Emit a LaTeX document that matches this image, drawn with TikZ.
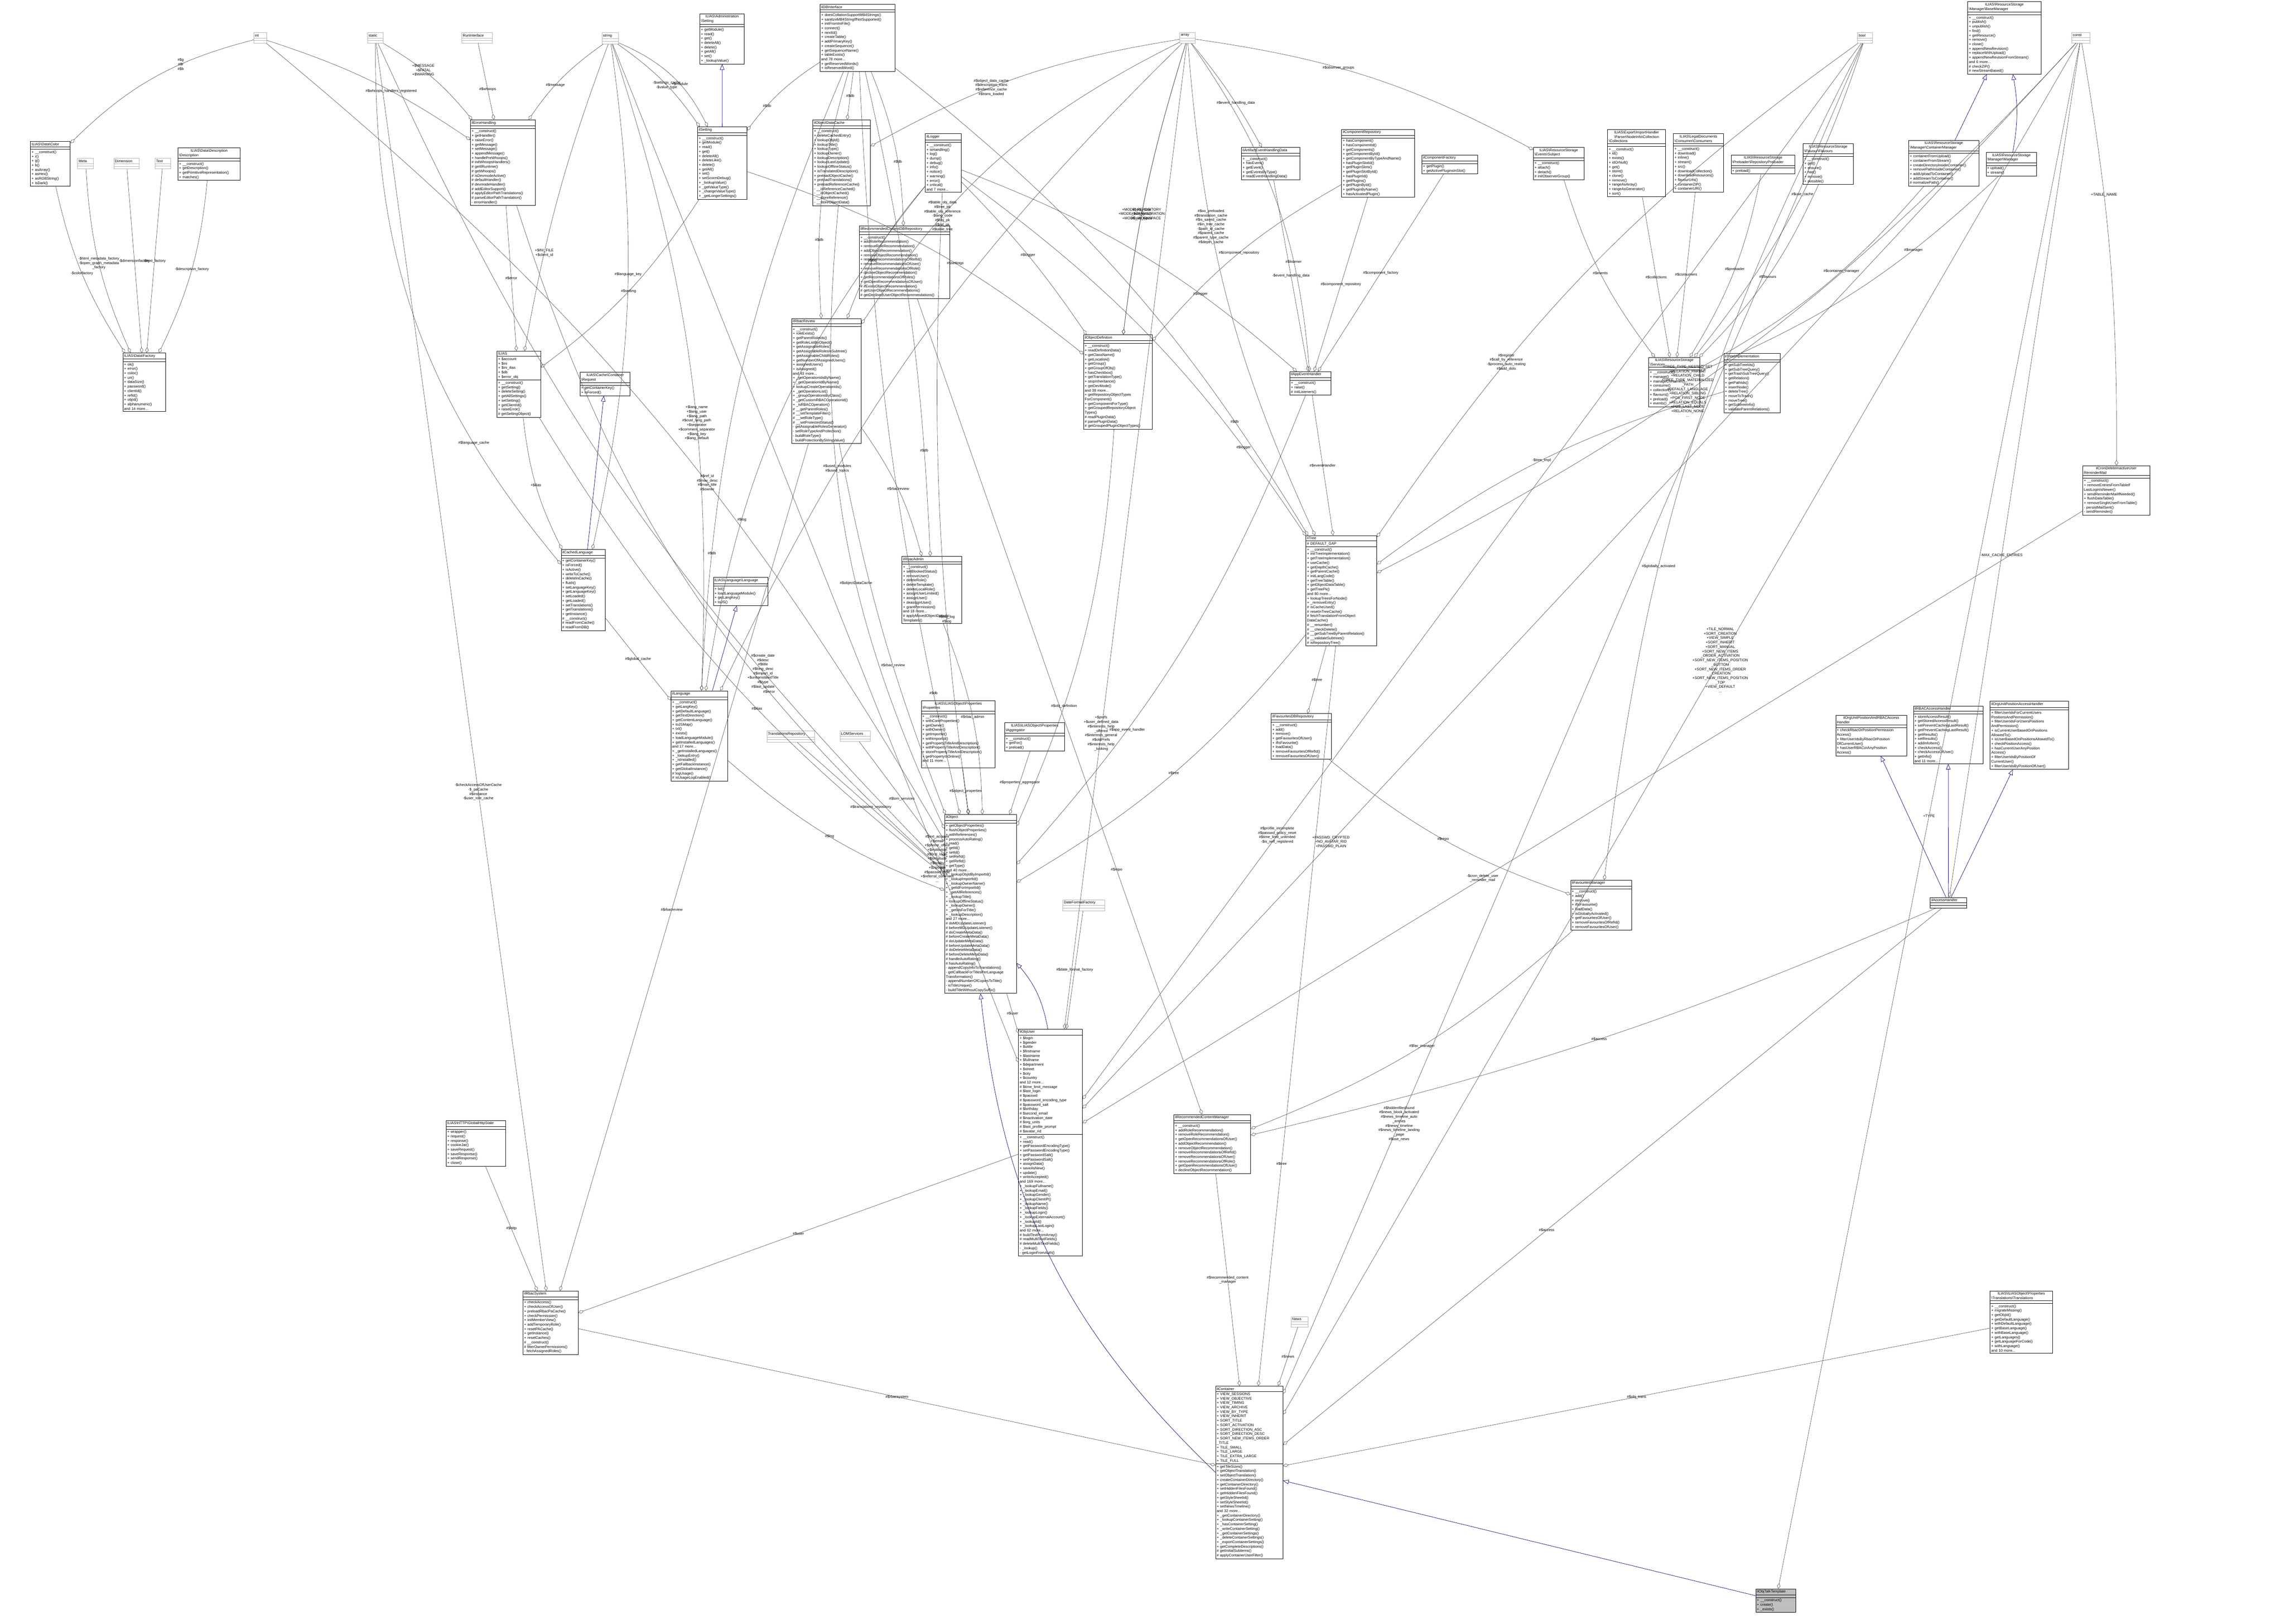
\documentclass[tikz,border=0pt]{standalone}
\usepackage{fontspec}
\setmainfont{Liberation Sans}
\usetikzlibrary{arrows.meta, shapes.multipart}

\tikzset{
  every node/.style={font=\fontsize{3.3}{4}\selectfont},
  cls/.style={draw, rectangle split, rectangle split parts=3, text width=#1,
    align=left, inner sep=1pt, anchor=north west, line width=0.35pt,
    rectangle split empty part height=4pt, fill=white},
  ext/.style={cls=#1, draw=gray!60},
  rel/.style={draw=black!75, line width=0.25pt, -{Diamond[open,length=5pt,width=3pt]}},
  inh/.style={draw=blue!45!black, line width=0.3pt, -{Triangle[open,length=5pt,width=4pt]}},
  lbl/.style={align=center, inner sep=0.5pt},
}

\begin{document}
\begin{tikzpicture}
  \useasboundingbox (0,0) rectangle (72.34,-51.41);
  % Plain types
  \node [ext=0.33cm] (int) at (8.03,-1.03) {\centering int\nodepart{two}\nodepart{three}};
  \node [ext=0.43cm] (static) at (11.63,-1.03) {\centering static\nodepart{two}\nodepart{three}};
  \node [ext=0.9cm] (runif) at (14.61,-1.03) {\centering RunInterface\nodepart{two}\nodepart{three}};
  \node [ext=0.46cm] (string) at (19.05,-1.03) {\centering string\nodepart{two}\nodepart{three}};
  \node [ext=0.42cm] (array) at (37.34,-1.03) {\centering array\nodepart{two}\nodepart{three}};
  \node [ext=0.41cm] (bool) at (58.8,-1.03) {\centering bool\nodepart{two}\nodepart{three}};
  \node [ext=0.51cm] (const) at (65.58,-1.03) {\centering const\nodepart{two}\nodepart{three}};
  \node [ext=0.43cm] (meta) at (2.45,-5.01) {\centering Meta\nodepart{two}\nodepart{three}};
  \node [ext=0.73cm] (dimension) at (3.6,-5.01) {\centering Dimension\nodepart{two}\nodepart{three}};
  \node [ext=0.42cm] (text) at (4.9,-5.01) {\centering Text\nodepart{two}\nodepart{three}};
  \node [ext=1.44cm] (transrepo) at (24.27,-23.14) {\centering TranslationsRepository\nodepart{two}\nodepart{three}};
  \node [ext=0.89cm] (lomservices) at (26.59,-23.14) {\centering LOMServices\nodepart{two}\nodepart{three}};
  \node [ext=1.26cm] (dateformat) at (33.64,-28.48) {\centering DateFormatFactory\nodepart{two}\nodepart{three}};
  \node [ext=0.46cm] (news) at (40.87,-41.68) {\centering News\nodepart{two}\nodepart{three}};

  % Classes, top row
  \node [cls=1.34cm] (adminsetting) at (22.15,-0.43) {\centering ILIAS\textbackslash Administration\\\textbackslash Setting\nodepart{two}\nodepart{three}+ getModule()\\+ read()\\+ get()\\+ deleteAll()\\+ delete()\\+ getAll()\\+ set()\\+ \_lookupValue()};
  \node [cls=2.3cm] (dbinterface) at (25.96,-0.13) {\centering ilDBInterface\nodepart{two}\nodepart{three}+ doesCollationSupportMB4Strings()\\+ sanitizeMB4StringIfNotSupported()\\+ initFromIniFile()\\+ connect()\\+ nextId()\\+ createTable()\\+ addPrimaryKey()\\+ createSequence()\\+ getSequenceName()\\+ tableExists()\\and 78 more...\\+ getReservedWords()\\+ isReservedWord()};
  \node [cls=2.25cm] (basemanager) at (62.29,-0.05) {\centering ILIAS\textbackslash ResourceStorage\\\textbackslash Manager\textbackslash BaseManager\nodepart{two}\nodepart{three}+ \_\_construct()\\+ publish()\\+ unpublish()\\+ find()\\+ getResource()\\+ remove()\\+ clone()\\+ appendNewRevision()\\+ replaceWithUpload()\\+ appendNewRevisionFromStream()\\and 6 more...\\\# checkZIP()\\\# newStreamBased()};

  % Classes, second row
  \node [cls=1.19cm] (color) at (0.96,-4.47) {\centering ILIAS\textbackslash Data\textbackslash Color\nodepart{two}\nodepart{three}+ \_\_construct()\\+ r()\\+ g()\\+ b()\\+ asArray()\\+ asHex()\\+ asRGBString()\\+ isDark()};
  \node [cls=1.9cm] (description) at (5.63,-4.68) {\centering ILIAS\textbackslash Data\textbackslash Description\\\textbackslash Description\nodepart{two}\nodepart{three}+ \_\_construct()\\+ getDescription()\\+ getPrimitiveRepresentation()\\+ matches()};
  \node [cls=1.98cm] (errorhandling) at (14.89,-3.79) {\centering ilErrorHandling\nodepart{two}\nodepart{three}+ \_\_construct()\\+ getHandler()\\+ raiseError()\\+ getMessage()\\+ setMessage()\\+ appendMessage()\\+ handlePreWhoops()\\\# initWhoopsHandlers()\\\# getIlRuntime()\\\# getWhoops()\\\# isDevmodeActive()\\\# defaultHandler()\\\# devmodeHandler()\\\# addEditorSupport()\\\# applyEditorPathTranslations()\\\# parseEditorPathTranslation()\\- errorHandler()};
  \node [cls=1.49cm] (setting) at (22.08,-4.01) {\centering ilSetting\nodepart{two}\nodepart{three}+ \_\_construct()\\+ getModule()\\+ read()\\+ get()\\+ deleteAll()\\+ deleteLike()\\+ delete()\\+ getAll()\\+ set()\\+ setScormDebug()\\+ \_lookupValue()\\+ \_getValueType()\\+ \_changeValueType()\\+ \_getLongerSettings()};
  \node [cls=1.75cm] (objdatacache) at (25.73,-3.79) {\centering ilObjectDataCache\nodepart{two}\nodepart{three}+ \_\_construct()\\+ deleteCachedEntry()\\+ lookupObjId()\\+ lookupTitle()\\+ lookupType()\\+ lookupOwner()\\+ lookupDescription()\\+ lookupLastUpdate()\\+ lookupOfflineStatus()\\+ isTranslatedDescription()\\+ preloadObjectCache()\\+ preloadTranslations()\\+ preloadReferenceCache()\\- \_\_isReferenceCached()\\- \_\_isObjectCached()\\- \_\_storeReference()\\- \_\_storeObjectData()};
  \node [cls=1.07cm] (logger) at (29.29,-4.23) {\centering ilLogger\nodepart{two}\nodepart{three}+ \_\_construct()\\+ isHandling()\\+ log()\\+ dump()\\+ debug()\\+ info()\\+ notice()\\+ warning()\\+ error()\\+ critical()\\and 7 more...};
  \node [cls=1.77cm] (artifact) at (39.3,-4.66) {\centering ilArtifactEventHandlingData\nodepart{two}\nodepart{three}+ \_\_construct()\\+ hasEvent()\\+ getEvent()\\+ getEventsByType()\\\# readEventHandlingData()};
  \node [cls=2.24cm] (comprepo) at (42.47,-4.09) {\centering ilComponentRepository\nodepart{two}\nodepart{three}+ hasComponent()\\+ hasComponentId()\\+ getComponents()\\+ getComponentById()\\+ getComponentByTypeAndName()\\+ hasPluginSlotId()\\+ getPluginSlots()\\+ getPluginSlotById()\\+ hasPluginId()\\+ getPlugins()\\+ getPluginById()\\+ getPluginByName()\\+ hasActivatedPlugin()};
  \node [cls=1.69cm] (compfactory) at (45.01,-4.9) {\centering ilComponentFactory\nodepart{two}\nodepart{three}+ getPlugin()\\+ getActivePluginsInSlot()};
  \node [cls=1.53cm] (subject) at (48.54,-4.66) {\centering ILIAS\textbackslash ResourceStorage\\\textbackslash Events\textbackslash Subject\nodepart{two}\nodepart{three}+ \_\_construct()\\+ attach()\\+ detach()\\\# initObserverGroup()};
  \node [cls=1.76cm] (collections) at (50.89,-4.1) {\centering ILIAS\textbackslash Export\textbackslash ImportHandler\\\textbackslash Parser\textbackslash NodeInfo\textbackslash Collection\\\textbackslash Collections\nodepart{two}\nodepart{three}+ \_\_construct()\\+ id()\\+ exists()\\+ idOrNull()\\+ get()\\+ store()\\+ clone()\\+ remove()\\+ rangeAsArray()\\+ rangeAsGenerator()\\+ sort()};
  \node [cls=1.52cm] (consumers) at (52.97,-4.23) {\centering ILIAS\textbackslash LegalDocuments\\\textbackslash Consumer\textbackslash Consumers\nodepart{two}\nodepart{three}+ \_\_construct()\\+ download()\\+ inline()\\+ stream()\\+ src()\\+ downloadCollection()\\+ downloadResources()\\+ flavourUrls()\\+ containerZIP()\\+ containerURI()};
  \node [cls=1.95cm] (preloader) at (54.8,-4.9) {\centering ILIAS\textbackslash ResourceStorage\\\textbackslash Preloader\textbackslash RepositoryPreloader\nodepart{two}\nodepart{three}+ preload()};
  \node [cls=1.51cm] (flavours) at (57.08,-4.55) {\centering ILIAS\textbackslash ResourceStorage\\\textbackslash Flavour\textbackslash Flavours\nodepart{two}\nodepart{three}+ \_\_construct()\\+ get()\\+ ensure()\\+ has()\\+ remove()\\+ possible()};
  \node [cls=2.15cm] (containermanager) at (60.42,-4.44) {\centering ILIAS\textbackslash ResourceStorage\\\textbackslash Manager\textbackslash ContainerManager\nodepart{two}\nodepart{three}+ containerFromUpload()\\+ containerFromStream()\\+ createDirectoryInsideContainer()\\+ removePathInsideContainer()\\+ addUploadToContainer()\\+ addStreamToContainer()\\\# normalizePath()};
  \node [cls=1.53cm] (manager) at (62.87,-4.82) {\centering ILIAS\textbackslash ResourceStorage\\\textbackslash Manager\textbackslash Manager\nodepart{two}\nodepart{three}+ upload()\\+ stream()};

  % Classes, third row
  \node [cls=2.79cm] (recdbrepo) at (27.2,-7.15) {\centering ilRecommendedContentDBRepository\nodepart{two}\nodepart{three}+ \_\_construct()\\+ addRoleRecommendation()\\+ removeRoleRecommendation()\\+ addObjectRecommendation()\\+ removeObjectRecommendation()\\+ removeRecommendationsOfRefId()\\+ removeRecommendationsOfUser()\\+ removeRecommendationsOfRole()\\+ declineObjectRecommendation()\\+ getRecommendationsOfRoles()\\+ getOpenRecommendationsOfUser()\\\# ifExistsObjectRecommendation()\\\# getUserObjectRecommendations()\\\# getDeclinedUserObjectRecommendations()};
  \node [cls=1.27cm] (datafactory) at (3.89,-11.17) {\centering ILIAS\textbackslash Data\textbackslash Factory\nodepart{two}\nodepart{three}+ ok()\\+ error()\\+ color()\\+ uri()\\+ dataSize()\\+ password()\\+ clientId()\\+ refId()\\+ objId()\\+ alphanumeric()\\and 14 more...};
  \node [cls=1.31cm] (ilias) at (15.73,-11.11) {\centering ILIAS\nodepart{two}+ \$account\\+ \$ini\\+ \$ini\_ilias\\+ \$db\\+ \$error\_obj\nodepart{three}+ \_\_construct()\\+ getSetting()\\+ deleteSetting()\\+ getAllSettings()\\+ setSetting()\\+ getClientId()\\+ raiseError()\\\# getSettingObject()};
  \node [cls=1.51cm] (cacherequest) at (18.36,-11.78) {\centering ILIAS\textbackslash Cache\textbackslash Container\\\textbackslash Request\nodepart{two}\nodepart{three}+ getContainerKey()\\+ isForced()};
  \node [cls=2.13cm] (rbacreview) at (25.06,-10.08) {\centering ilRbacReview\nodepart{two}\nodepart{three}+ \_\_construct()\\+ roleExists()\\+ getParentRoleIds()\\+ getRoleListByObject()\\+ getAssignableRoles()\\+ getAssignableRolesInSubtree()\\+ getAssignableChildRoles()\\+ getNumberOfAssignedUsers()\\+ assignedUsers()\\+ isAssigned()\\and 43 more...\\+ \_getOperationIdsByName()\\+ \_getOperationIdByName()\\+ lookupCreateOperationIds()\\+ \_getOperationList()\\+ \_groupOperationsByClass()\\+ \_getCustomRBACOperationId()\\+ \_isRBACOperation()\\\# \_\_getParentRoles()\\\# \_\_setTemplateFilter()\\\# \_\_setRoleType()\\\# \_\_setProtectedStatus()\\- getAssignableRolesGenerator()\\- setRoleTypeAndProtection()\\- buildRoleType()\\- buildProtectionByStringValue()};
  \node [cls=2.1cm] (objdefinition) at (34.3,-10.59) {\centering ilObjectDefinition\nodepart{two}\nodepart{three}+ \_\_construct()\\+ readDefinitionData()\\+ getClassName()\\+ getLocation()\\+ getGroup()\\+ getGroupOfObj()\\+ hasCheckbox()\\+ getTranslationType()\\+ stopInheritance()\\+ getDevMode()\\and 38 more...\\+ getRepositoryObjectTypes\\ForComponent()\\+ getComponentForType()\\+ getGroupedRepositoryObject\\Types()\\\# readPluginData()\\\# parsePluginData()\\\# getGroupedPluginObjectTypes()};
  \node [cls=1.23cm] (appevent) at (40.83,-11.76) {\centering ilAppEventHandler\nodepart{two}\nodepart{three}+ \_\_construct()\\+ raise()\\\# initListeners()};
  \node [cls=1.54cm] (services) at (52.19,-11.31) {\centering ILIAS\textbackslash ResourceStorage\\\textbackslash Services\nodepart{two}\nodepart{three}+ \_\_construct()\\+ manage()\\+ manageContainer()\\+ consume()\\+ collection()\\+ flavours()\\+ preload()\\+ events()};
  \node [cls=1.71cm] (treeimpl) at (54.57,-11.19) {\centering ilTreeImplementation\nodepart{two}\nodepart{three}+ getSubTreeIds()\\+ getSubTreeQuery()\\+ getTrashSubTreeQuery()\\+ getRelation()\\+ getPathIds()\\+ insertNode()\\+ deleteTree()\\+ moveToTrash()\\+ moveTree()\\+ getSubtreeInfo()\\+ validateParentRelations()};
  \node [cls=2.05cm] (crondelete) at (65.93,-14.74) {\centering ilCronDeleteInactiveUser\\ReminderMail\nodepart{two}\nodepart{three}+ \_\_construct()\\+ removeEntriesFromTableIf\\LastLoginIsNewer()\\+ sendReminderMailIfNeeded()\\+ flushDataTable()\\+ removeSingleUserFromTable()\\- persistMailSent()\\- sendReminder()};

  % Language, tree and object row
  \node [cls=1.32cm] (cachedlang) at (17.76,-17.39) {\centering ilCachedLanguage\nodepart{two}\nodepart{three}+ getContainerKey()\\+ isForced()\\+ isActive()\\+ writeToCache()\\+ deleteInCache()\\+ flush()\\+ setLanguageKey()\\+ getLanguageKey()\\+ setLoaded()\\+ getLoaded()\\+ setTranslations()\\+ getTranslations()\\+ getInstance()\\\# \_\_construct()\\\# readFromCache()\\\# readFromDB()};
  \node [cls=1.66cm] (langlang) at (22.58,-18.28) {\centering ILIAS\textbackslash Language\textbackslash Language\nodepart{two}\nodepart{three}+ txt()\\+ loadLanguageModule()\\+ getLangKey()\\+ toJS()};
  \node [cls=1.82cm] (rbacadmin) at (28.55,-17.61) {\centering ilRbacAdmin\nodepart{two}\nodepart{three}+ \_\_construct()\\+ setBlockedStatus()\\+ removeUser()\\+ deleteRole()\\+ deleteTemplate()\\+ deleteLocalRole()\\+ assignUserLimited()\\+ assignUser()\\+ deassignUser()\\+ grantPermission()\\and 18 more...\\\# applyMovedObjectDidactic\\Templates()};
  \node [cls=2.17cm] (tree) at (41.34,-16.95) {\centering ilTree\nodepart{two}\# DEFAULT\_GAP\nodepart{three}+ \_\_construct()\\+ initTreeImplementation()\\+ getTreeImplementation()\\+ useCache()\\+ getDepthCache()\\+ getParentCache()\\+ initLangCode()\\+ getTreeTable()\\+ getObjectDataTable()\\+ getTreePk()\\and 80 more...\\+ lookupTreesForNode()\\+ \_removeEntry()\\\# isCacheUsed()\\\# resetInTreeCache()\\\# fetchTranslationFromObject\\DataCache()\\\# \_\_renumber()\\\# \_\_checkDelete()\\\# \_\_getSubTreeByParentRelation()\\\# \_\_validateSubtrees()\\\# isRepositoryTree()};
  \node [cls=1.72cm] (language) at (21.24,-21.87) {\centering ilLanguage\nodepart{two}\nodepart{three}+ \_\_construct()\\+ getLangKey()\\+ getDefaultLanguage()\\+ getTextDirection()\\+ getContentLanguage()\\+ toJSMap()\\+ txt()\\+ exists()\\+ loadLanguageModule()\\+ getInstalledLanguages()\\and 17 more...\\+ \_getInstalledLanguages()\\+ \_lookupEntry()\\+ \_isInstalled()\\+ getFallbackInstance()\\+ getGlobalInstance()\\\# logUsage()\\\# isUsageLogEnabled()};
  \node [cls=2.27cm] (properties) at (29.16,-22.18) {\centering ILIAS\textbackslash ILIASObject\textbackslash Properties\\\textbackslash Properties\nodepart{two}\nodepart{three}+ \_\_construct()\\+ withCoreProperties()\\+ getOwner()\\+ withOwner()\\+ getImportId()\\+ withImportId()\\+ getPropertyTitleAndDescription()\\+ withPropertyTitleAndDescription()\\+ storePropertyTitleAndDescription()\\+ getPropertyIsOnline()\\and 11 more...\\- ...};
  \node [cls=1.83cm] (aggregator) at (31.8,-22.88) {\centering ILIAS\textbackslash ILIASObject\textbackslash Properties\\\textbackslash Aggregator\nodepart{two}\nodepart{three}+ \_\_construct()\\+ getFor()\\+ preload()};
  \node [cls=2.2cm] (object) at (29.9,-25.78) {\centering ilObject\nodepart{two}\nodepart{three}+ getObjectProperties()\\+ flushObjectProperties()\\+ withReferences()\\+ processAutoRating()\\+ read()\\+ getId()\\+ setId()\\+ setRefId()\\+ getRefId()\\+ getType()\\and 40 more...\\+ \_lookupObjIdByImportId()\\+ \_lookupImportId()\\+ \_lookupOwnerName()\\+ \_getIdForImportId()\\+ \_getAllReferences()\\+ \_lookupTitle()\\+ lookupOfflineStatus()\\+ \_lookupOwner()\\+ \_getIdsForTitle()\\+ \_lookupDescription()\\and 27 more...\\\# doMDUpdateListener()\\\# beforeMDUpdateListener()\\\# doCreateMetaData()\\\# beforeCreateMetaData()\\\# doUpdateMetaData()\\\# beforeUpdateMetaData()\\\# doDeleteMetaData()\\\# beforeDeleteMetaData()\\\# handleAutoRating()\\\# hasAutoRating()\\- appendCopyInfoToTranslations()\\- getCallbackForTitlesPerLanguage\\Transformation()\\- appendNumberOfCopiesToTitle()\\- isTitleUnique()\\- buildTitleWithoutCopySuffix()};
  \node [cls=1.83cm] (favdbrepo) at (40.24,-22.59) {\centering ilFavouritesDBRepository\nodepart{two}\nodepart{three}+ \_\_construct()\\+ add()\\+ remove()\\+ getFavouritesOfUser()\\+ ifIsFavourite()\\+ loadData()\\+ removeFavouritesOfRefId()\\+ removeFavouritesOfUser()};
  \node [cls=2.18cm] (orgrbac) at (58.11,-22.64) {\centering ilOrgUnitPositionAndRBACAccess\\Handler\nodepart{two}\nodepart{three}+ checkRbacOrPositionPermission\\Access()\\+ filterUserIdsByRbacOrPosition\\OfCurrentUser()\\+ hasUserRBACorAnyPosition\\Access()};
  \node [cls=2.13cm] (rbacaccess) at (60.57,-22.35) {\centering ilRBACAccessHandler\nodepart{two}\nodepart{three}+ storeAccessResult()\\+ getStoredAccessResult()\\+ setPreventCachingLastResult()\\+ getPreventCachingLastResult()\\+ getResults()\\+ setResults()\\+ addInfoItem()\\+ checkAccess()\\+ checkAccessOfUser()\\+ getInfo()\\and 11 more...};
  \node [cls=2.41cm] (orgaccess) at (63.0,-22.2) {\centering ilOrgUnitPositionAccessHandler\nodepart{two}\nodepart{three}+ filterUserIdsForCurrentUsers\\PositionsAndPermission()\\+ filterUserIdsForUsersPositions\\AndPermission()\\+ isCurrentUserBasedOnPositions\\AllowedTo()\\+ isUserBasedOnPositionsAllowedTo()\\+ checkPositionAccess()\\+ hasCurrentUserAnyPosition\\Access()\\+ filterUserIdsByPositionOf\\CurrentUser()\\+ filterUserIdsByPositionOfUser()};
  \node [cls=1.09cm] (accesshandler) at (61.1,-28.41) {\centering ilAccessHandler\nodepart{two}\nodepart{three}};
  \node [cls=1.86cm] (favmanager) at (49.72,-27.86) {\centering ilFavouritesManager\nodepart{two}\nodepart{three}+ \_\_construct()\\+ add()\\+ remove()\\+ ifIsFavourite()\\+ loadData()\\+ isGloballyActivated()\\+ getFavouritesOfUser()\\+ removeFavouritesOfRefId()\\+ removeFavouritesOfUser()};

  % Lower classes
  \node [cls=1.95cm] (objuser) at (32.24,-32.58) {\centering ilObjUser\nodepart{two}+ \$login\\+ \$gender\\+ \$utitle\\+ \$firstname\\+ \$lastname\\+ \$fullname\\+ \$department\\+ \$street\\+ \$city\\+ \$country\\and 12 more...\\\# \$time\_limit\_message\\\# \$last\_login\\\# \$passwd\\\# \$password\_encoding\_type\\\# \$password\_salt\\\# \$birthday\\\# \$second\_email\\\# \$inactivation\_date\\\# \$org\_units\\\# \$last\_profile\_prompt\\\# \$avatar\_rid\nodepart{three}+ \_\_construct()\\+ read()\\+ getPasswordEncodingType()\\+ setPasswordEncodingType()\\+ getPasswordSalt()\\+ setPasswordSalt()\\+ assignData()\\+ saveAsNew()\\+ update()\\+ writeAccepted()\\and 169 more...\\+ \_lookupFullname()\\+ \_lookupEmail()\\+ \_lookupGender()\\+ \_lookupClientIP()\\+ \_lookupName()\\+ \_lookupFields()\\+ \_lookupLogin()\\+ \_lookupExternalAccount()\\+ \_lookupId()\\+ \_lookupLastLogin()\\and 62 more...\\\# buildTextFromArray()\\\# readMultiTextFields()\\\# deleteMultiTextFields()\\- \_lookup()\\- getLoginFromAuth()};
  \node [cls=1.81cm] (httpstate) at (14.12,-35.47) {\centering ILIAS\textbackslash HTTP\textbackslash GlobalHttpState\nodepart{two}\nodepart{three}+ wrapper()\\+ request()\\+ response()\\+ cookieJar()\\+ saveRequest()\\+ saveResponse()\\+ sendResponse()\\+ close()};
  \node [cls=2.36cm] (reccontentmanager) at (37.16,-35.28) {\centering ilRecommendedContentManager\nodepart{two}\nodepart{three}+ \_\_construct()\\+ addRoleRecommendation()\\+ removeRoleRecommendation()\\+ getOpenRecommendationsOfUser()\\+ addObjectRecommendation()\\+ removeObjectRecommendation()\\+ removeRecommendationsOfRefId()\\+ removeRecommendationsOfUser()\\+ removeRecommendationsOfRole()\\+ getOpenRecommendationsOfUser()\\+ declineObjectRecommendation()};
  \node [cls=1.68cm] (rbacsystem) at (16.55,-40.87) {\centering ilRbacSystem\nodepart{two}\nodepart{three}+ checkAccess()\\+ checkAccessOfUser()\\+ preloadRbacPaCache()\\+ checkPermission()\\+ initMemberView()\\+ addTemporaryRole()\\+ resetPACache()\\+ getInstance()\\+ resetCaches()\\\# \_\_construct()\\\# filterOwnerPermissions()\\- fetchAssignedRoles()};
  \node [cls=1.9cm] (translations) at (63.0,-40.87) {\centering ILIAS\textbackslash ILIASObject\textbackslash Properties\\\textbackslash Translations\textbackslash Translations\nodepart{two}\nodepart{three}+ \_\_construct()\\+ migrateMissing()\\+ getObjId()\\+ getDefaultLanguage()\\+ withDefaultLanguage()\\+ getBaseLanguage()\\+ withBaseLanguage()\\+ getLanguages()\\+ getLanguageForCode()\\+ withLanguage()\\and 10 more...};
  \node [cls=2.06cm] (container) at (38.48,-43.88) {\centering ilContainer\nodepart{two}+ VIEW\_SESSIONS\\+ VIEW\_OBJECTIVE\\+ VIEW\_TIMING\\+ VIEW\_ARCHIVE\\+ VIEW\_BY\_TYPE\\+ VIEW\_INHERIT\\+ SORT\_TITLE\\+ SORT\_ACTIVATION\\+ SORT\_DIRECTION\_ASC\\+ SORT\_DIRECTION\_DESC\\+ SORT\_NEW\_ITEMS\_ORDER\\\_TITLE\\+ TILE\_SMALL\\+ TILE\_LARGE\\+ TILE\_EXTRA\_LARGE\\+ TILE\_FULL\nodepart{three}+ getTileSizes()\\+ getObjectTranslation()\\+ setObjectTranslation()\\+ createContainerDirectory()\\+ getContainerDirectory()\\+ setHiddenFilesFound()\\+ getHiddenFilesFound()\\+ getStyleSheetId()\\+ setStyleSheetId()\\+ setNewsTimeline()\\and 32 more...\\+ \_getContainerDirectory()\\+ \_lookupContainerSetting()\\+ \_hasContainerSetting()\\+ \_writeContainerSetting()\\+ \_getContainerSettings()\\+ \_deleteContainerSettings()\\+ \_exportContainerSettings()\\+ getCompleteDescriptions()\\\# getInitialSubitems()\\\# applyContainerUserFilter()};
  \node [cls=1.2cm, fill=gray!50] (talktemplate) at (55.58,-50.3) {\centering ilObjTalkTemplate\nodepart{two}\nodepart{three}+ \_\_construct()\\+ create()\\+ \_exists()};

  % Inheritance
  \draw [inh] (setting) -- (adminsetting);
  \draw [inh] (cachedlang) -- (cacherequest);
  \draw [inh] (language) -- (langlang);
  \draw [inh] (containermanager) -- (basemanager);
  \draw [inh] (manager) to [bend right=10] (basemanager);
  \draw [inh] (accesshandler) -- (orgrbac);
  \draw [inh] (accesshandler) -- (rbacaccess);
  \draw [inh] (accesshandler) -- (orgaccess);
  \draw [inh] (objuser) to [bend right=15] (object);
  \draw [inh] (container.west) to [bend left=20] (object.south);
  \draw [inh] (talktemplate) -- (container);

  % Data factory members
  \draw [rel] (int) to [bend right=15] node [lbl, pos=0.35] {\#\$g\\\#\$r\\\#\$b} (color);
  \draw [rel] (color) to [bend right=10] node [lbl] {-\$colorfactory} (datafactory);
  \draw [rel] (meta) to [bend right=10] node [lbl] {-\$html\_metadata\_factory\\-\$open\_graph\_metadata\\\_factory} (datafactory);
  \draw [rel] (dimension) -- node [lbl] {-\$dimensionfactory} (datafactory);
  \draw [rel] (text) -- node [lbl] {-\$text\_factory} (datafactory);
  \draw [rel] (description) to [bend left=10] node [lbl] {-\$description\_factory} (datafactory);

  % Error handling and settings
  \draw [rel] (static) to [bend left=10] node [lbl, pos=0.4] {+\$MESSAGE\\+\$FATAL\\+\$WARNING} (errorhandling);
  \draw [rel] (int) to [bend left=8] node [lbl, pos=0.6] {\#\$whoops\_handlers\_registered} (errorhandling);
  \draw [rel] (runif) -- node [lbl, pos=0.6] {\#\$whoops} (errorhandling);
  \draw [rel] (string) to [bend right=10] node [lbl, pos=0.6] {\#\$message} (errorhandling);
  \draw [rel] (string) to [bend left=10] node [lbl, pos=0.55] {-\$settings\_cache\\-\$value\_type} (setting);
  \draw [rel] (string) to [bend left=20] node [lbl, pos=0.6] {+\$module} (setting);
  \draw [rel] (dbinterface) to [bend right=10] node [lbl, pos=0.7] {\#\$db} (setting);
  \draw [rel] (errorhandling) -- node [lbl] {\#\$error} (ilias);
  \draw [rel] (setting) to [bend left=10] node [lbl] {\#\$setting} (ilias);
  \draw [rel] (string) to [bend right=5] node [lbl, pos=0.7] {+\$INI\_FILE\\+\$client\_id} (ilias);
  \draw [rel] (string) to [bend left=10] node [lbl, pos=0.45] {\#\$language\_key} (cachedlang);
  \draw [rel] (ilias) to [bend right=10] node [lbl] {+\$ilias} (cachedlang);
  \draw [rel] (static) to [bend right=20] node [lbl, pos=0.75] {\#\$language\_cache} (cachedlang);

  % Cache, logger and repositories
  \draw [rel] (dbinterface) -- node [lbl] {\#\$db} (objdatacache);
  \draw [rel] (array) to [bend right=10] node [lbl, pos=0.6] {\#\$object\_data\_cache\\\#\$description\_trans\\\#\$reference\_cache\\\#\$trans\_loaded} (objdatacache);
  \draw [rel] (dbinterface) to [bend left=10] node [lbl, pos=0.6] {\#\$db} (recdbrepo);
  \draw [rel] (array) to [bend left=5] node [lbl, pos=0.6] {\#\$event\_handling\_data} (artifact);
  \draw [rel] (artifact) -- node [lbl] {-\$event\_handling\_data} (appevent);
  \draw [rel] (comprepo) -- node [lbl] {\#\$component\_repository} (appevent);
  \draw [rel] (compfactory) -- node [lbl] {\#\$component\_factory} (appevent);
  \draw [rel] (array) to [bend left=15] node [lbl, pos=0.7] {\#\$listener} (appevent);
  \draw [rel] (logger) to [bend left=10] node [lbl, pos=0.7] {\#\$logger} (appevent);
  \draw [rel] (comprepo) to [bend right=10] node [lbl] {\#\$component\_repository} (objdefinition);
  \draw [rel] (logger) to [bend left=5] node [lbl] {\#\$logger} (objdefinition);
  \draw [rel] (array) to [bend right=5] node [lbl, pos=0.6] {\#\$obj\_data\\\#\$obj\_group\\\#\$sub\_types} (objdefinition);
  \draw [rel] (setting) to [bend left=10] node [lbl, pos=0.6] {\#\$settings} (objdefinition);
  \draw [rel] (array) to [bend right=5] node [lbl, pos=0.6] {+MODE\_REPOSITORY\\+MODE\_ADMINISTRATION\\+MODE\_WORKSPACE} (objdefinition);
  \draw [rel] (dbinterface) to [bend right=10] node [lbl, pos=0.7] {\#\$db} (rbacreview);
  \draw [rel] (logger) to [bend right=10] node [lbl, pos=0.6] {\#\$log} (rbacreview);
  \draw [rel] (array) to [bend right=15] node [lbl, pos=0.7] {\#\$table\_obj\_data\\\#\$tree\_pk\\\#\$table\_obj\_reference\\-\$lang\_code\\\#\$obj\_pk\\\#\$ref\_pk\\\#\$table\_tree} (rbacreview);

  % Resource storage services
  \draw [rel] (subject) to [bend right=10] node [lbl] {\#\$events} (services);
  \draw [rel] (collections) -- node [lbl] {\#\$collections} (services);
  \draw [rel] (consumers) -- node [lbl] {\#\$consumers} (services);
  \draw [rel] (preloader) to [bend left=10] node [lbl] {\#\$preloader} (services);
  \draw [rel] (flavours) to [bend left=10] node [lbl] {\#\$flavours} (services);
  \draw [rel] (containermanager) to [bend left=10] node [lbl, pos=0.4] {\#\$container\_manager} (services);
  \draw [rel] (manager) to [bend left=10] node [lbl, pos=0.3] {\#\$manager} (services);
  \draw [rel] (bool) to [bend left=10] node [lbl, pos=0.45] {\#\$use\_cache} (services);
  \draw [rel] (array) to [bend left=10] node [lbl, pos=0.4] {\#\$observer\_groups} (subject);
  \draw [rel] (const) to [bend left=5] node [lbl, pos=0.35] {+TABLE\_NAME} (crondelete);

  % Tree
  \draw [rel] (appevent) -- node [lbl] {\#\$eventHandler} (tree);
  \draw [rel] (treeimpl) to [bend right=10] node [lbl] {-\$tree\_impl} (tree);
  \draw [rel] (dbinterface) to [bend left=10] node [lbl, pos=0.8] {\#\$db} (tree);
  \draw [rel] (logger) to [bend left=10] node [lbl, pos=0.8] {\#\$logger} (tree);
  \draw [rel] (bool) to [bend right=10] node [lbl, pos=0.7] {\#\$register\\\#\$call\_by\_reference\\-\$process\_auto\_reating\\\#\$add\_dots} (tree);
  \draw [rel] (const) to [bend left=10] node [lbl, pos=0.6] {+TREE\_TYPE\_NESTED\_SET\\+RELATION\_PARENT\\+RELATION\_CHILD\\+TREE\_TYPE\_MATERIALIZED\\\_PATH\\\#DEFAULT\_LANGUAGE\\+RELATION\_SIBLING\\+POS\_FIRST\_NODE\\+RELATION\_EQUALS\\+POS\_LAST\_NODE\\+RELATION\_NONE\\...} (tree);
  \draw [rel] (array) to [bend right=10] node [lbl, pos=0.35] {\#\$oo\_preloaded\\\#\$translation\_cache\\\#\$is\_saved\_cache\\\#\$in\_tree\_cache\\-\$path\_id\_cache\\\#\$parent\_cache\\\#\$parent\_type\_cache\\\#\$depth\_cache} (tree);
  \draw [rel] (tree) -- node [lbl] {\#\$tree} (favdbrepo);
  \draw [rel] (favdbrepo) to [bend right=10] node [lbl] {\#\$repo} (favmanager);
  \draw [rel] (bool) to [bend right=10] node [lbl, pos=0.65] {\#\$globally\_activated} (favmanager);

  % Language
  \draw [rel] (cachedlang) -- node [lbl] {\#\$global\_cache} (language);
  \draw [rel] (logger) to [bend right=15] node [lbl, pos=0.7] {\#\$log} (language);
  \draw [rel] (dbinterface) to [bend right=10] node [lbl, pos=0.8] {\#\$db} (language);
  \draw [rel] (string) to [bend left=10] node [lbl, pos=0.6] {+\$lang\_name\\+\$lang\_user\\+\$lang\_path\\\#\$cust\_lang\_path\\+\$separator\\+\$comment\_separator\\+\$lang\_key\\+\$lang\_default} (language);
  \draw [rel] (array) to [bend right=10] node [lbl, pos=0.7] {\#\$used\_modules\\\#\$used\_topics} (language);
  \draw [rel] (dbinterface) to [bend left=5] node [lbl, pos=0.8] {\#\$db} (rbacadmin);
  \draw [rel] (rbacreview) to [bend left=10] node [lbl] {\#\$rbacreview} (rbacadmin);

  % Object
  \draw [rel] (properties) -- node [lbl] {\#\$object\_properties} (object);
  \draw [rel] (aggregator) -- node [lbl] {\#\$properties\_aggregator} (object);
  \draw [rel] (transrepo) -- node [lbl] {\#\$translations\_repository} (object);
  \draw [rel] (lomservices) -- node [lbl] {\#\$lom\_services} (object);
  \draw [rel] (rbacadmin) to [bend left=10] node [lbl] {\#\$rbac\_admin} (object);
  \draw [rel] (language) to [bend right=10] node [lbl] {\#\$lng} (object);
  \draw [rel] (objdatacache) to [bend right=15] node [lbl, pos=0.6] {\#\$objectDataCache} (object);
  \draw [rel] (objdefinition) to [bend left=10] node [lbl, pos=0.7] {\#\$obj\_definition} (object);
  \draw [rel] (appevent) to [bend left=10] node [lbl, pos=0.7] {\#\$app\_event\_handler} (object);
  \draw [rel] (logger) to [bend right=5] node [lbl, pos=0.7] {\#\$obj\_log\\\#\$log} (object);
  \draw [rel] (tree) to [bend left=10] node [lbl] {\#\$tree} (object);
  \draw [rel] (ilias) to [bend right=10] node [lbl, pos=0.6] {\#\$ilias} (object);
  \draw [rel] (errorhandling) to [bend right=15] node [lbl, pos=0.7] {\#\$error} (object);
  \draw [rel] (rbacreview) to [bend right=5] node [lbl, pos=0.6] {\#\$rbac\_review} (object);
  \draw [rel] (dbinterface) to [bend right=5] node [lbl, pos=0.85] {\#\$db} (object);
  \draw [rel] (static) to [bend right=10] node [lbl, pos=0.75] {\#\$create\_date\\\#\$desc\\\#\$title\\\#\$long\_desc\\\#\$import\_id\\+\$untranslatedTitle\\\#\$type\\\#\$last\_update} (object);
  \draw [rel] (int) to [bend left=10] node [lbl, pos=0.6] {\#\$ref\_id\\\#\$max\_desc\\\#\$max\_title\\\#\$owner} (object);

  % User, access and container
  \draw [rel] (dateformat) -- node [lbl] {\#\$date\_format\_factory} (objuser);
  \draw [rel] (object) -- node [lbl] {\#\$user} (objuser);
  \draw [rel] (crondelete) -- node [lbl, pos=0.6] {-\$cron\_delete\_user\\\_reminder\_mail} (objuser);
  \draw [rel] (bool) -- node [lbl, pos=0.75] {\#\$profile\_incomplete\\\#\$passwd\_policy\_reset\\\#\$time\_limit\_unlimited\\-\$is\_self\_registered} (objuser);
  \draw [rel] (const) -- node [lbl, pos=0.75] {+PASSWD\_CRYPTED\\+NO\_AVATAR\_RID\\+PASSWD\_PLAIN} (objuser);
  \draw [rel] (string) -- node [lbl, pos=0.8] {\#\$ext\_account\\+\$email\\+\$phone\_office\\+\$institution\\\#\$first\_login\\+\$longitude\\+\$hobby\\+\$zipcode\\\#\$passwd\_type\\+\$referral\_comment\\...} (objuser);
  \draw [rel] (array) -- node [lbl, pos=0.7] {+\$prefs\\+\$user\_defined\_data\\\#\$interests\_help\\\_offered\\\#\$interests\_general\\\#\$oldPrefs\\\#\$interests\_help\\\_looking} (objuser);
  \draw [rel] (objuser) -- node [lbl] {\#\$user} (rbacsystem);
  \draw [rel] (httpstate) -- node [lbl] {\#\$http} (rbacsystem);
  \draw [rel] (rbacreview) -- node [lbl, pos=0.55] {\#\$rbacreview} (rbacsystem);
  \draw [rel] (static) -- node [lbl, pos=0.6] {-\$checkAccessOfUserCache\\-\$\_paCache\\\#\$instance\\-\$user\_role\_cache} (rbacsystem);
  \draw [rel] (favmanager) to [bend left=10] node [lbl] {\#\$fav\_manager} (reccontentmanager);
  \draw [rel] (recdbrepo) -- node [lbl, pos=0.7] {\#\$repo} (reccontentmanager);
  \draw [rel] (accesshandler) to [bend left=5] node [lbl] {\#\$access} (reccontentmanager);
  \draw [rel] (reccontentmanager) -- node [lbl] {\#\$recommended\_content\\\_manager} (container);
  \draw [rel] (news) -- node [lbl] {\#\$news} (container);
  \draw [rel] (tree) -- node [lbl, pos=0.7] {\#\$tree} (container);
  \draw [rel] (translations) -- node [lbl, pos=0.5] {\#\$obj\_trans} (container);
  \draw [rel] (accesshandler) -- node [lbl, pos=0.6] {\#\$access} (container);
  \draw [rel] (rbacsystem) -- node [lbl] {\#\$rbacsystem} (container);
  \draw [rel] (bool) -- node [lbl, pos=0.8] {\#\$hiddenfilesfound\\\#\$news\_block\_activated\\\#\$news\_timeline\_auto\\\_entries\\\#\$news\_timeline\\\#\$news\_timeline\_landing\\\_page\\\#\$use\_news} (container);
  \draw [rel] (const) -- node [lbl, pos=0.45] {+TILE\_NORMAL\\+SORT\_CREATION\\+VIEW\_SIMPLE\\+SORT\_INHERIT\\+SORT\_MANUAL\\+SORT\_NEW\_ITEMS\\\_ORDER\_ACTIVATION\\+SORT\_NEW\_ITEMS\_POSITION\\\_BOTTOM\\+SORT\_NEW\_ITEMS\_ORDER\\\_CREATION\\+SORT\_NEW\_ITEMS\_POSITION\\\_TOP\\+VIEW\_DEFAULT\\...} (container);
  \draw [rel] (const) -- node [lbl, pos=0.5] {+TYPE} (talktemplate);
  \draw [rel] (const) -- node [lbl, pos=0.6] {-MAX\_CACHE\_ENTRIES} (accesshandler);
\end{tikzpicture}
\end{document}
